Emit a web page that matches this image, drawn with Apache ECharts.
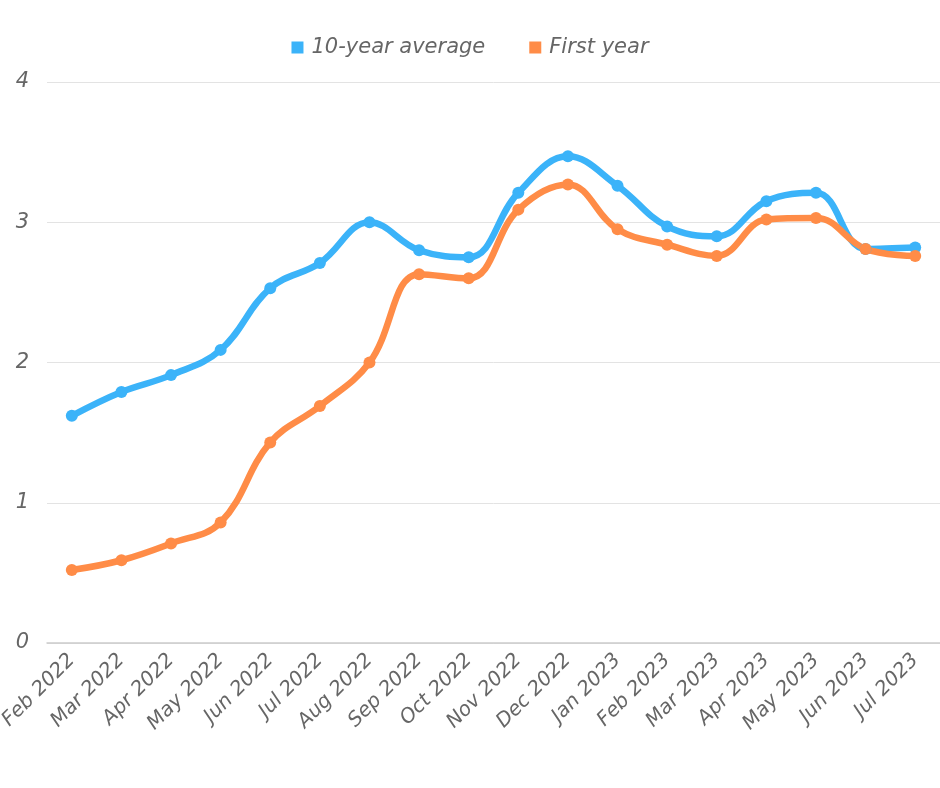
<!DOCTYPE html>
<html><head><meta charset="utf-8">
<script src="https://cdn.jsdelivr.net/npm/echarts@6/dist/echarts.min.js"></script>
<style>html,body{margin:0;padding:0;background:#fff}#c{width:940px;height:788px}</style>
</head><body><div id="c"></div>
<script>
const categories = ["Feb 2022","Mar 2022","Apr 2022","May 2022","Jun 2022","Jul 2022","Aug 2022","Sep 2022","Oct 2022","Nov 2022","Dec 2022","Jan 2023","Feb 2023","Mar 2023","Apr 2023","May 2023","Jun 2023","Jul 2023"];
const tenYearAverage = [1.62,1.79,1.91,2.09,2.53,2.71,3.00,2.80,2.75,3.21,3.47,3.26,2.97,2.90,3.15,3.21,2.81,2.82];
const firstYear = [0.52,0.59,0.71,0.86,1.43,1.69,2.00,2.63,2.60,3.09,3.27,2.95,2.84,2.76,3.02,3.03,2.81,2.76];
const yTicks = [0,1,2,3,4];

const font = "'DejaVu Sans', sans-serif";
const chart = echarts.init(document.getElementById('c'));
chart.setOption({
  animation:false,
  legend:{
    top:32, left:'center', itemWidth:12, itemHeight:12, itemGap:44, icon:'rect',
    textStyle:{fontSize:21, fontStyle:'italic', color:'#666', fontFamily:font, padding:[0,0,0,3]},
    data:['10-year average','First year']
  },
  grid:{left:47, right:0, top:82, bottom:145, containLabel:false, outerBoundsMode:'none'},
  xAxis:{
    type:'category', data:categories, boundaryGap:true,
    axisLine:{lineStyle:{color:'#ccc', width:1.5}},
    axisTick:{show:false},
    axisLabel:{rotate:45, fontSize:20, fontStyle:'italic', color:'#666', fontFamily:font, margin:14, interval:0}
  },
  yAxis:{
    type:'value', min:yTicks[0], max:yTicks[yTicks.length-1], interval:1,
    axisLine:{show:false}, axisTick:{show:false},
    splitLine:{lineStyle:{color:'#e3e3e3', width:1}},
    axisLabel:{fontSize:21, fontStyle:'italic', color:'#666', fontFamily:font, margin:18}
  },
  series:[
    {name:'10-year average', type:'line', data:tenYearAverage, smooth:0.4, symbol:'circle', symbolSize:12,
     itemStyle:{color:'#3BB3F9'}, lineStyle:{width:6.5, color:'#3BB3F9'}},
    {name:'First year', type:'line', data:firstYear, smooth:0.4, symbol:'circle', symbolSize:12,
     itemStyle:{color:'#FF8C47'}, lineStyle:{width:6.5, color:'#FF8C47'}}
  ]
});
</script></body></html>
